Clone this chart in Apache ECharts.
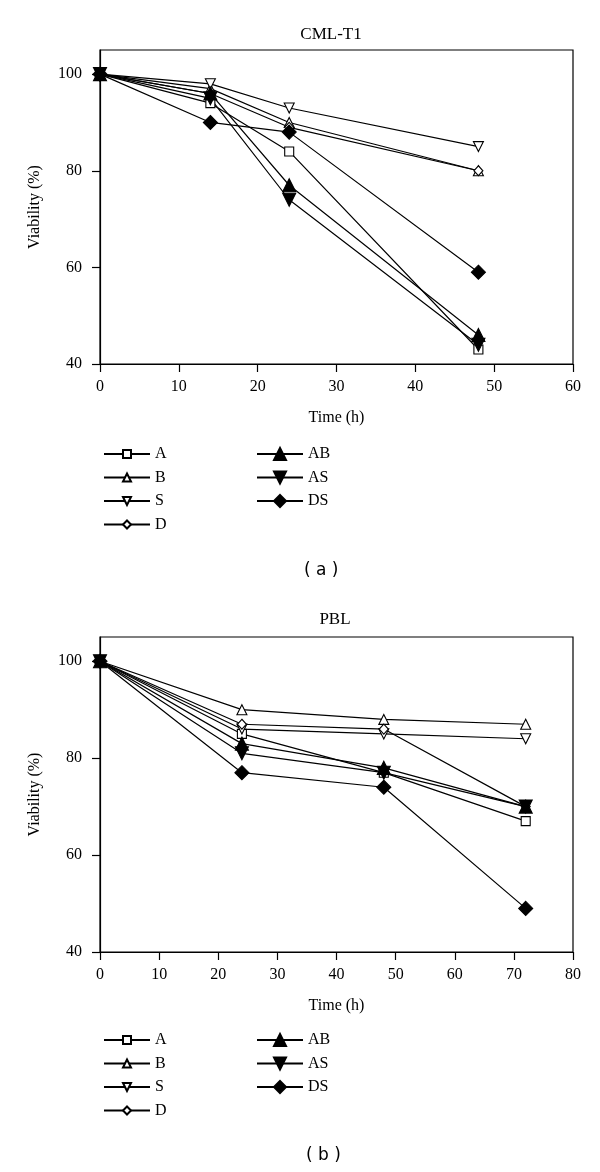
<!DOCTYPE html>
<html><head><meta charset="utf-8">
<script src="https://cdn.jsdelivr.net/npm/echarts@6/dist/echarts.min.js"></script>
<style>html,body{margin:0;padding:0;background:#fff}#c{width:600px;height:1172px}</style>
</head><body><div id="c"></div>
<script>
// ---- data ----
const seriesNames = ['A', 'B', 'S', 'D', 'AB', 'AS', 'DS'];
const legendCol1 = ['A', 'B', 'S', 'D'];
const legendCol2 = ['AB', 'AS', 'DS'];

const cmlTitle = 'CML-T1';
const cmlTime = [0, 14, 24, 48];
const cmlA  = [100, 94, 84, 43];
const cmlB  = [100, 97, 90, 80];
const cmlS  = [100, 98, 93, 85];
const cmlD  = [100, 96, 89, 80];
const cmlAB = [100, 96, 77, 46];
const cmlAS = [100, 95, 74, 44];
const cmlDS = [100, 90, 88, 59];

const pblTitle = 'PBL';
const pblTime = [0, 24, 48, 72];
const pblA  = [100, 85, 77, 67];
const pblB  = [100, 90, 88, 87];
const pblS  = [100, 86, 85, 84];
const pblD  = [100, 87, 86, 70];
const pblAB = [100, 83, 78, 70];
const pblAS = [100, 81, 77, 70];
const pblDS = [100, 77, 74, 49];

const yTicks = [40, 60, 80, 100];
const xTitle = 'Time (h)';
const yTitle = 'Viability (%)';

// ---- styles ----
const serif = "'Liberation Serif', 'Times New Roman', serif";
const markerStyle = {
  A:  {symbol: 'rect',     size: 9,  rotate: 0,   fill: '#ffffff'},
  B:  {symbol: 'triangle', size: 10, rotate: 0,   fill: '#ffffff'},
  S:  {symbol: 'triangle', size: 10, rotate: 180, fill: '#ffffff'},
  D:  {symbol: 'diamond',  size: [9, 10], rotate: 0, fill: '#ffffff'},
  AB: {symbol: 'triangle', size: 13, rotate: 0,   fill: '#000000'},
  AS: {symbol: 'triangle', size: 13, rotate: 180, fill: '#000000'},
  DS: {symbol: 'diamond',  size: 14, rotate: 0,   fill: '#000000'}
};

function mkSeries(name, times, vals, idx) {
  const s = markerStyle[name];
  return {
    name: name, type: 'line', xAxisIndex: idx, yAxisIndex: idx,
    data: times.map((t, i) => [t, vals[i]]),
    symbol: s.symbol, symbolSize: s.size, symbolRotate: s.rotate, showAllSymbol: true,
    lineStyle: {color: '#000', width: 1.2},
    itemStyle: {color: s.fill, borderColor: '#000', borderWidth: 1.1},
    emphasis: {disabled: true}, silent: true
  };
}

const cmlVals = {A: cmlA, B: cmlB, S: cmlS, D: cmlD, AB: cmlAB, AS: cmlAS, DS: cmlDS};
const pblVals = {A: pblA, B: pblB, S: pblS, D: pblD, AB: pblAB, AS: pblAS, DS: pblDS};

const series = [];
seriesNames.forEach(n => series.push(mkSeries(n, cmlTime, cmlVals[n], 0)));
seriesNames.forEach(n => series.push(mkSeries(n, pblTime, pblVals[n], 1)));

const axisText = {fontFamily: serif, fontSize: 16, color: '#000'};

function xAxis(idx, max) {
  return {
    type: 'value', gridIndex: idx, min: 0, max: max, interval: 10,
    name: xTitle, nameLocation: 'middle', nameGap: 46, nameTextStyle: axisText,
    axisLine: {onZero: false, lineStyle: {color: '#000', width: 1.2}},
    axisTick: {show: true, length: 8, lineStyle: {color: '#000', width: 1.2}},
    axisLabel: Object.assign({margin: 15}, axisText),
    splitLine: {show: false}
  };
}
function yAxis(idx) {
  return {
    type: 'value', gridIndex: idx, min: 40, max: 105, interval: 20,
    name: yTitle, nameLocation: 'middle', nameGap: 57, nameTextStyle: axisText,
    axisLine: {onZero: false, lineStyle: {color: '#000', width: 1.2}},
    axisTick: {show: true, length: 8, customValues: yTicks, lineStyle: {color: '#000', width: 1.2}},
    axisLabel: Object.assign({margin: 18, customValues: yTicks}, axisText),
    splitLine: {show: false}
  };
}

function legend(names, left, top, ih) {
  return {
    data: names, orient: 'vertical', left: left, top: top,
    itemWidth: 46, itemHeight: ih, itemGap: 7.5,
    selectedMode: false, symbolRotate: 'inherit',
    textStyle: {fontFamily: serif, fontSize: 16, color: '#000', lineHeight: 16, padding: [0, 0, 0, 0]}
  };
}

const option = {
  animation: false,
  backgroundColor: '#fff',
  title: [
    {text: cmlTitle, left: 326, top: 21, textAlign: 'center',
     textStyle: {fontFamily: serif, fontSize: 17, fontWeight: 'normal', color: '#000'}},
    {text: pblTitle, left: 330, top: 606, textAlign: 'center',
     textStyle: {fontFamily: serif, fontSize: 17, fontWeight: 'normal', color: '#000'}}
  ],
  grid: [
    {left: 100, top: 50, width: 473, height: 314, show: true, borderColor: '#000', borderWidth: 1.2, containLabel: false},
    {left: 100, top: 637, width: 473, height: 315, show: true, borderColor: '#000', borderWidth: 1.2, containLabel: false}
  ],
  xAxis: [xAxis(0, 60), xAxis(1, 80)],
  yAxis: [yAxis(0), yAxis(1)],
  legend: [
    legend(legendCol1, 98, 441, 10),
    legend(legendCol2, 251, 441, 15),
    legend(legendCol1, 98, 1027, 10),
    legend(legendCol2, 251, 1027, 15)
  ],
  graphic: [
    {type: 'text', left: 304, top: 562, style: {text: '( a )', font: "17px 'DejaVu Sans'", fill: '#000'}},
    {type: 'text', left: 306, top: 1147, style: {text: '( b )', font: "17px 'DejaVu Sans'", fill: '#000'}}
  ],
  series: series
};

const chart = echarts.init(document.getElementById('c'));
chart.setOption(option);
</script>
</body></html>
